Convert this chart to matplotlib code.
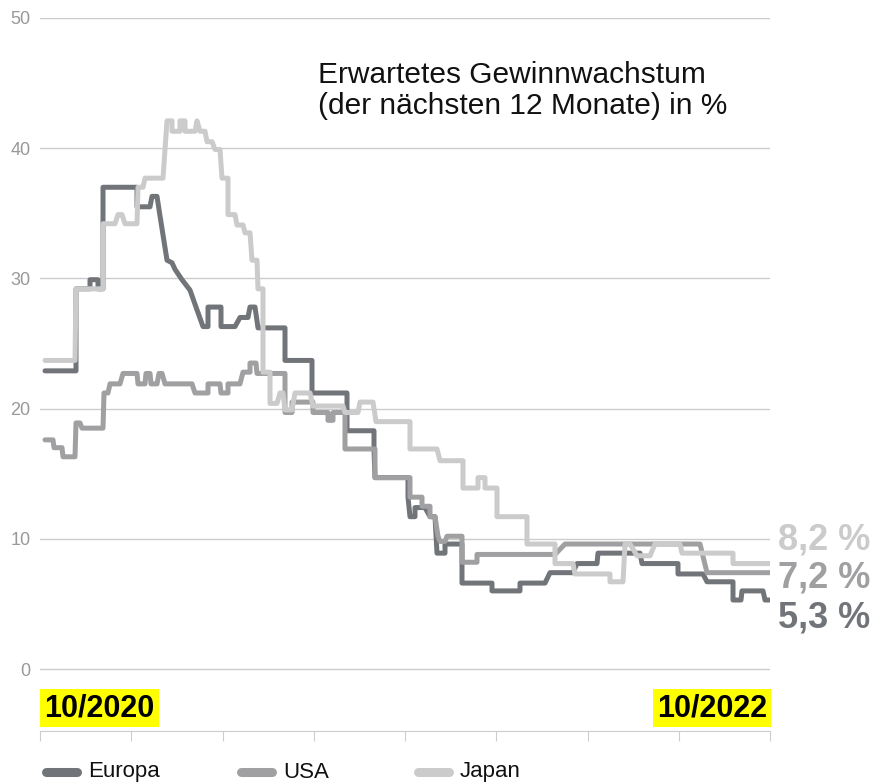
import matplotlib.pyplot as plt
from matplotlib.lines import Line2D

plt.rcParams['font.family'] = ['Liberation Sans', 'DejaVu Sans']

# days since 10/2020 and expected earnings growth in %
eu_days = [5, 36, 36, 50, 50, 58, 58, 63, 63, 97, 97, 110, 112, 117, 120, 127, 132, 135, 142, 150, 156,
           163, 168, 168, 181, 181, 195, 200, 208, 210, 215, 218, 245, 245, 272, 272, 307, 307, 334, 334,
           335, 368, 368, 370, 375, 375, 385, 390, 395, 397, 405, 405, 422, 422, 452, 452, 480, 480, 505,
           510, 533, 537, 557, 558, 600, 602, 638, 638, 663, 667, 693, 693, 701, 702, 723, 725, 730]
eu_vals = [22.9, 22.9, 29.2, 29.2, 29.9, 29.9, 29.2, 29.2, 37.0, 37.0, 35.5, 35.5, 36.3, 36.3, 34.8, 31.4,
           31.2, 30.7, 29.9, 29.1, 27.8, 26.3, 26.3, 27.8, 27.8, 26.3, 26.3, 27.0, 27.0, 27.8, 27.8, 26.2,
           26.2, 23.7, 23.7, 21.2, 21.2, 18.3, 18.3, 16.8, 14.7, 14.7, 13.2, 11.7, 11.7, 12.4, 12.4, 11.7,
           11.7, 8.9, 8.9, 9.6, 9.6, 6.6, 6.6, 6.0, 6.0, 6.6, 6.6, 7.4, 7.4, 8.1, 8.1, 8.9, 8.9, 8.1, 8.1,
           7.3, 7.3, 6.7, 6.7, 5.3, 5.3, 6.0, 6.0, 5.3, 5.3]

us_days = [5, 13, 14, 22, 23, 35, 36, 40, 42, 63, 64, 68, 70, 80, 83, 97, 98, 105, 106, 110, 111, 117,
           119, 122, 125, 152, 155, 168, 168, 180, 181, 188, 188, 200, 203, 210, 210, 216, 217, 245, 245,
           252, 252, 273, 273, 288, 288, 293, 293, 305, 305, 335, 335, 370, 370, 382, 382, 390, 390, 395,
           398, 400, 405, 407, 422, 422, 437, 437, 515, 525, 660, 667, 730]
us_vals = [17.6, 17.6, 17.0, 17.0, 16.3, 16.3, 18.9, 18.9, 18.5, 18.5, 21.2, 21.2, 21.9, 21.9, 22.7, 22.7,
           21.9, 21.9, 22.7, 22.7, 21.9, 21.9, 22.7, 22.7, 21.9, 21.9, 21.2, 21.2, 21.9, 21.9, 21.2, 21.2,
           21.9, 21.9, 22.8, 22.8, 23.5, 23.5, 22.7, 22.7, 19.7, 19.7, 20.5, 20.5, 19.7, 19.7, 19.1, 19.1,
           19.7, 19.7, 16.9, 16.9, 14.7, 14.7, 13.2, 13.2, 12.5, 12.5, 11.7, 11.7, 10.2, 9.8, 9.8, 10.2,
           10.2, 8.2, 8.2, 8.8, 8.8, 9.6, 9.6, 7.4, 7.4]

jp_days = [5, 35, 36, 63, 63, 75, 78, 82, 85, 97, 98, 103, 105, 123, 127, 132, 132, 140, 140, 145, 145,
           155, 157, 160, 165, 167, 172, 175, 180, 182, 188, 188, 195, 197, 203, 205, 210, 212, 217, 218,
           223, 223, 230, 230, 237, 240, 243, 245, 252, 255, 270, 273, 303, 305, 318, 320, 333, 336, 370,
           370, 397, 400, 423, 423, 438, 438, 445, 445, 457, 457, 487, 487, 515, 515, 533, 535, 570, 570,
           583, 585, 590, 597, 610, 615, 640, 642, 693, 693, 730]
jp_vals = [23.7, 23.7, 29.2, 29.2, 34.2, 34.2, 34.9, 34.9, 34.2, 34.2, 37.0, 37.0, 37.7, 37.7, 42.1, 42.1,
           41.3, 41.3, 42.1, 42.1, 41.3, 41.3, 42.1, 41.3, 41.3, 40.5, 40.5, 39.9, 39.9, 37.7, 37.7, 34.9,
           34.9, 34.1, 34.1, 33.5, 33.5, 31.4, 31.4, 29.2, 29.2, 22.8, 22.8, 20.4, 20.4, 21.2, 21.2, 19.9,
           19.9, 21.2, 21.2, 20.2, 20.2, 19.7, 19.7, 20.5, 20.5, 19.0, 19.0, 16.9, 16.9, 16.0, 16.0, 13.9,
           13.9, 14.7, 14.7, 13.9, 13.9, 11.7, 11.7, 9.6, 9.6, 8.1, 8.1, 7.3, 7.3, 6.7, 6.7, 9.6, 9.6, 8.7,
           8.7, 9.6, 9.6, 8.9, 8.9, 8.1, 8.1]

names = ["Europa", "USA", "Japan"]
colors = ["#717478", "#a09fa1", "#cbcbcb"]
end_labels = ["5,3 %", "7,2 %", "8,2 %"]
label_pos = [3.9, 7.0, 9.9]

W, H = 874, 784
fig = plt.figure(figsize=(W / 100, H / 100), dpi=100)
ax = fig.add_axes([40 / W, 1 - 731 / H, 730 / W, (731 - 18) / H])

series = [(eu_days, eu_vals), (us_days, us_vals), (jp_days, jp_vals)]
for (d, v), c, n in zip(series, colors, names):
    ax.plot(d, v, color=c, lw=3.6, label=n, solid_joinstyle='round', solid_capstyle='round')

ax.set_xlim(0, 730)
ax.set_ylim(-4.76, 50)
ax.set_yticks([0, 10, 20, 30, 40, 50])
ax.set_xticks([i * 730 / 8 for i in range(9)])
ax.set_xticklabels([])
ax.yaxis.grid(True, color="#cccccc", lw=1)
ax.set_axisbelow(True)
for s in ["top", "right", "left"]:
    ax.spines[s].set_visible(False)
ax.spines["bottom"].set_color("#cccccc")
ax.tick_params(axis="y", length=0, pad=7, labelsize=13, labelcolor="#999999")
ax.tick_params(axis="x", length=7, color="#cccccc")

for lab, y, c in zip(end_labels, label_pos, colors):
    ax.text(738, y, lab, color=c, fontsize=26, fontweight="bold", va="center", ha="left", clip_on=False)

ax.text(278, 45.0, "Erwartetes Gewinnwachstum", fontsize=21.5, color="#111111")
ax.text(278, 42.6, "(der nächsten 12 Monate) in %", fontsize=21.5, color="#111111")

box = dict(facecolor="#ffff00", edgecolor="none", pad=3)
ax.text(4, -3.0, "10/2020", fontsize=22, fontweight="bold", va="center", ha="left", bbox=box)
ax.text(727, -3.0, "10/2022", fontsize=22, fontweight="bold", va="center", ha="right", bbox=box)

# legend drawn by hand
leg_x = [46, 241, 418]
leg_y = 1 - 772 / H
for x0, c, n in zip(leg_x, colors, names):
    fig.add_artist(Line2D([x0 / W, (x0 + 31) / W], [leg_y, leg_y], color=c, lw=6.5,
                          solid_capstyle="round", transform=fig.transFigure))
    fig.text((x0 + 42) / W, leg_y, n, fontsize=16, va="center", ha="left", color="#111111")

fig.savefig("out.png", dpi=100)
